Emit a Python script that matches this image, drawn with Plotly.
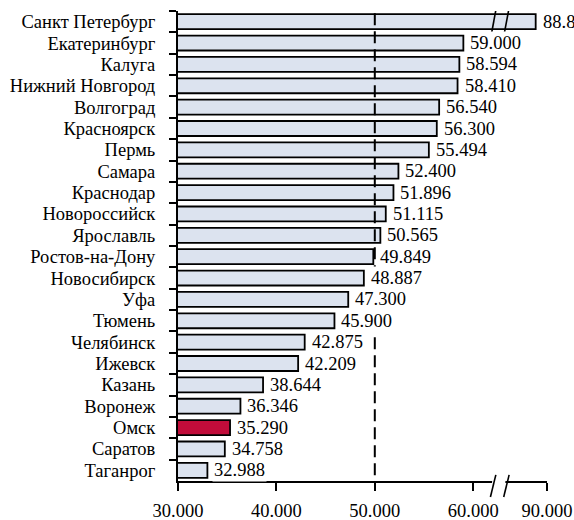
import plotly.graph_objects as go

# Cities, top to bottom
cities = [
    "Санкт Петербург", "Екатеринбург", "Калуга", "Нижний Новгород", "Волгоград",
    "Красноярск", "Пермь", "Самара", "Краснодар", "Новороссийск", "Ярославль",
    "Ростов-на-Дону", "Новосибирск", "Уфа", "Тюмень", "Челябинск", "Ижевск",
    "Казань", "Воронеж", "Омск", "Саратов", "Таганрог",
]
values = [
    88.850, 59.000, 58.594, 58.410, 56.540,
    56.300, 55.494, 52.400, 51.896, 51.115, 50.565,
    49.849, 48.887, 47.300, 45.900, 42.875, 42.209,
    38.644, 36.346, 35.290, 34.758, 32.988,
]
highlight = "Омск"

tick_values = [30, 40, 50, 60, 90]
tick_labels = ["30.000", "40.000", "50.000", "60.000", "90.000"]
reference_value = 50

# Broken x axis: everything above BREAK_AT is shifted left by BREAK_SHIFT
BREAK_AT = 62.5
BREAK_SHIFT = 22.5
X_MIN = 30


def to_axis(v):
    return v - BREAK_SHIFT if v > BREAK_AT else v


FONT = "Times New Roman, Liberation Serif, Tinos, DejaVu Serif, serif"
FILL = "#dce3ef"
HIGHLIGHT_FILL = "#c10c3a"

bar_x = [to_axis(v) for v in values]
colors = [HIGHLIGHT_FILL if c == highlight else FILL for c in cities]

fig = go.Figure(
    go.Bar(
        x=bar_x,
        y=cities,
        orientation="h",
        width=0.7,
        marker=dict(color=colors, line=dict(color="black", width=1.8)),
        hoverinfo="skip",
    )
)

# value labels on white boxes, so they sit over the dashed line
annotations = [
    dict(
        x=bx, y=city, xref="x", yref="y",
        text=f"{v:.3f}", showarrow=False,
        xanchor="left", yanchor="middle", xshift=5,
        bgcolor="white", borderpad=1,
        font=dict(family=FONT, size=18.5, color="black"),
    )
    for city, v, bx in zip(cities, values, bar_x)
]

x_max = to_axis(tick_values[-1])
shapes = []

# dashed reference line
shapes.append(dict(
    type="line", xref="x", yref="paper",
    x0=reference_value, x1=reference_value, y0=0.012, y1=1.0,
    line=dict(color="black", width=2, dash="12px,6px"), layer="above",
))

# break marks on the longest bar
for dx in (0.0, 1.3):
    shapes.append(dict(
        type="line", xref="x", yref="y",
        x0=BREAK_AT - 0.1 + dx, x1=BREAK_AT - 0.8 + dx, y0=-0.78, y1=0.95,
        line=dict(color="black", width=1.6), layer="above",
    ))

# gap in the x axis line plus its break marks
gx = BREAK_AT - 0.2
shapes.append(dict(
    type="path", xref="x", yref="paper",
    path=(f"M {gx - 0.35},0.006 L {gx + 1.0},0.006 "
          f"L {gx + 0.95},-0.008 L {gx - 0.4},-0.008 Z"),
    fillcolor="white", line=dict(width=0), layer="above",
))
for dx in (0.0, 1.35):
    shapes.append(dict(
        type="line", xref="x", yref="paper",
        x0=gx + dx, x1=gx - 0.55 + dx, y0=0.013, y1=-0.034,
        line=dict(color="black", width=1.6), layer="above",
    ))

fig.update_layout(
    width=574, height=520,
    margin=dict(l=178, r=27, t=11, b=39, pad=0),
    paper_bgcolor="white", plot_bgcolor="white",
    showlegend=False,
    font=dict(family=FONT, color="black"),
    shapes=shapes,
    annotations=annotations,
    bargap=0.3,
)

fig.update_xaxes(
    range=[X_MIN, x_max],
    tickmode="array",
    tickvals=[to_axis(v) for v in tick_values],
    ticktext=tick_labels,
    tickfont=dict(family=FONT, size=18.5, color="black"),
    showline=True, linecolor="black", linewidth=2,
    ticks="outside", ticklen=8, tickwidth=2, tickcolor="black",
    ticklabelstandoff=4,
    showgrid=False, zeroline=False,
    automargin=False,
)

fig.update_yaxes(
    categoryorder="array",
    categoryarray=cities,
    range=[len(cities) - 0.5, -0.5],
    tickmode="linear", tick0=0, dtick=1,
    tickfont=dict(family=FONT, size=18.5, color="black"),
    showline=True, linecolor="black", linewidth=2,
    ticks="outside", ticklen=7, tickwidth=2, tickcolor="black",
    tickson="boundaries",
    ticklabelstandoff=17,
    showgrid=False, zeroline=False,
    automargin=False,
)

fig.write_html("out.html")
